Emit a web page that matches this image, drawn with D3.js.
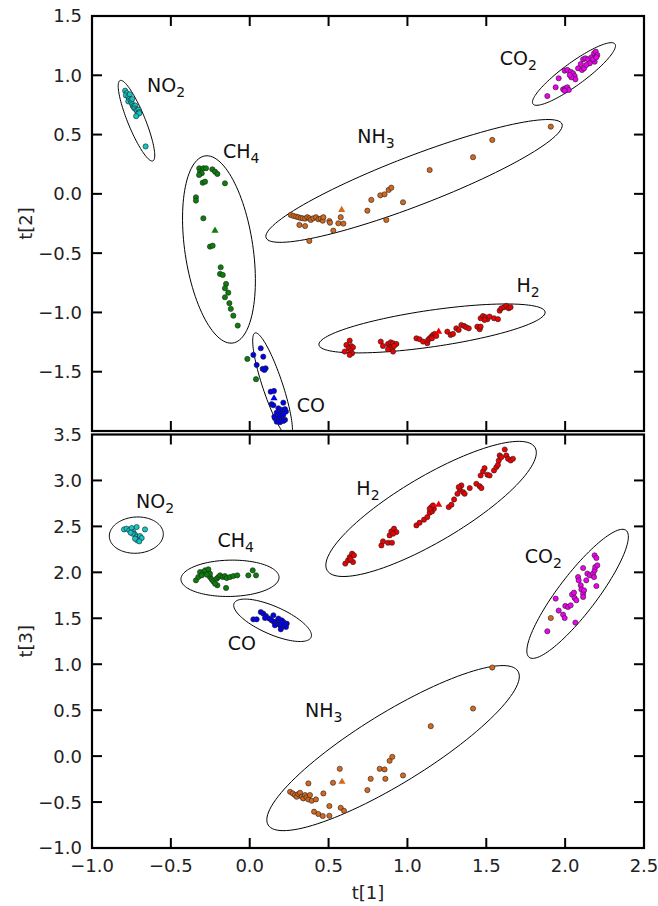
<!DOCTYPE html>
<html>
<head>
<meta charset="utf-8">
<script src="https://cdn.jsdelivr.net/npm/d3@7"></script>
<style>
  html, body { margin: 0; padding: 0; background: #fff; }
  svg { display: block; font-family: "DejaVu Sans", sans-serif; }
</style>
</head>
<body>
<div id="chart"></div>
<script>
// score values [t1, t2] for the upper plot
const no2Top = [[-0.79,0.87],[-0.78,0.85],[-0.785,0.83],[-0.77,0.82],[-0.765,0.80],[-0.77,0.78],[-0.755,0.79],[-0.75,0.77],[-0.745,0.755],[-0.74,0.74],[-0.735,0.73],[-0.725,0.745],[-0.73,0.72],[-0.72,0.71],[-0.715,0.70],[-0.705,0.71],[-0.70,0.69],[-0.71,0.675],[-0.70,0.68],[-0.72,0.655],[-0.76,0.84],[-0.745,0.80],[-0.66,0.40]];
const ch4Top = [[-0.320,0.216],[-0.315,0.187],[-0.304,0.174],[-0.321,0.159],[-0.294,0.216],[-0.277,0.216],[-0.237,0.207],[-0.220,0.187],[-0.205,0.168],[-0.298,0.094],[-0.283,0.103],[-0.157,0.089],[-0.341,-0.029],[-0.341,-0.057],[-0.294,-0.206],[-0.252,-0.445],[-0.235,-0.437],[-0.184,-0.619],[-0.188,-0.675],[-0.171,-0.684],[-0.150,-0.760],[-0.157,-0.796],[-0.136,-0.833],[-0.157,-0.872],[-0.129,-0.922],[-0.120,-0.970],[-0.104,-1.027],[-0.076,-1.111],[-0.015,-1.392],[0.040,-1.563]];
const coTop = [[0.070,-1.302],[0.023,-1.358],[0.086,-1.373],[0.044,-1.443],[0.082,-1.476],[0.101,-1.471],[0.093,-1.485],[0.133,-1.668],[0.154,-1.662],[0.139,-1.774],[0.150,-1.783],[0.213,-1.761],[0.182,-1.808],[0.203,-1.822],[0.224,-1.816],[0.171,-1.845],[0.192,-1.856],[0.213,-1.864],[0.230,-1.836],[0.160,-1.892],[0.182,-1.906],[0.203,-1.900],[0.224,-1.906],[0.171,-1.921],[0.192,-1.926],[0.213,-1.915],[0.156,-1.879],[0.188,-1.879]];
const nh3Top = [[0.260,-0.178],[0.277,-0.186],[0.294,-0.192],[0.308,-0.197],[0.323,-0.203],[0.336,-0.206],[0.351,-0.209],[0.365,-0.197],[0.378,-0.206],[0.387,-0.220],[0.403,-0.206],[0.420,-0.197],[0.435,-0.214],[0.450,-0.209],[0.463,-0.226],[0.467,-0.197],[0.505,-0.229],[0.509,-0.243],[0.315,-0.262],[0.351,-0.271],[0.530,-0.310],[0.378,-0.397],[0.562,-0.248],[0.594,-0.251],[0.577,-0.197],[0.746,-0.142],[0.771,-0.051],[0.828,-0.012],[0.855,-0.004],[0.881,0.033],[0.898,0.052],[0.972,-0.071],[0.866,-0.220],[1.141,0.201],[1.416,0.309],[1.538,0.455],[1.909,0.567]];
const co2Top = [[1.887,0.825],[1.940,0.899],[1.959,0.975],[1.987,0.882],[2.001,0.890],[2.014,0.899],[2.023,0.876],[1.997,0.870],[1.997,1.039],[2.014,1.045],[2.035,1.030],[2.050,1.017],[2.060,0.994],[2.065,0.966],[2.039,0.983],[2.029,1.003],[2.082,1.059],[2.099,1.095],[2.114,1.135],[2.128,1.143],[2.145,1.135],[2.166,1.152],[2.183,1.185],[2.194,1.199],[2.204,1.171],[2.187,1.115],[2.177,1.135],[2.156,1.101],[2.107,1.045],[2.120,1.059],[2.134,1.087],[2.198,1.152]];
const h2Top = [[0.634,-1.238],[0.613,-1.274],[0.644,-1.283],[0.628,-1.302],[0.655,-1.294],[0.602,-1.330],[0.640,-1.322],[0.649,-1.344],[0.634,-1.358],[0.831,-1.246],[0.845,-1.283],[0.877,-1.266],[0.894,-1.252],[0.909,-1.260],[0.930,-1.266],[0.887,-1.294],[0.902,-1.302],[0.877,-1.311],[0.909,-1.330],[0.915,-1.283],[1.057,-1.218],[1.077,-1.226],[1.099,-1.246],[1.126,-1.260],[1.131,-1.232],[1.141,-1.218],[1.152,-1.204],[1.162,-1.190],[1.173,-1.181],[1.156,-1.218],[1.183,-1.198],[1.253,-1.162],[1.274,-1.190],[1.289,-1.181],[1.310,-1.134],[1.325,-1.148],[1.342,-1.106],[1.359,-1.114],[1.373,-1.125],[1.389,-1.134],[1.443,-1.120],[1.458,-1.142],[1.464,-1.120],[1.464,-1.049],[1.479,-1.030],[1.494,-1.040],[1.507,-1.057],[1.521,-1.035],[1.549,-1.049],[1.574,-1.057],[1.585,-0.985],[1.595,-0.965],[1.613,-0.956],[1.627,-0.945],[1.642,-0.965],[1.654,-0.956],[1.489,-1.063]];

// score values [t1, t3] for the lower plot
const no2Bottom = [[-0.797,2.467],[-0.780,2.475],[-0.763,2.457],[-0.748,2.482],[-0.717,2.493],[-0.738,2.438],[-0.727,2.410],[-0.742,2.421],[-0.717,2.384],[-0.706,2.366],[-0.696,2.395],[-0.685,2.373],[-0.713,2.348],[-0.727,2.366],[-0.664,2.467],[-0.755,2.432],[-0.700,2.337]];
const ch4Bottom = [[-0.341,1.913],[-0.326,1.949],[-0.315,2.003],[-0.294,2.003],[-0.283,2.022],[-0.262,2.033],[-0.304,1.967],[-0.252,1.949],[-0.241,1.924],[-0.231,1.902],[-0.209,1.931],[-0.199,1.949],[-0.188,1.967],[-0.171,1.949],[-0.157,1.960],[-0.146,1.938],[-0.125,1.949],[-0.104,1.960],[-0.079,1.967],[-0.205,1.859],[-0.150,1.830],[-0.009,1.967],[0.019,2.022],[0.040,1.967],[-0.252,1.985],[-0.220,1.877],[-0.272,1.975]];
const coBottom = [[0.023,1.489],[0.044,1.489],[0.070,1.568],[0.086,1.551],[0.103,1.525],[0.097,1.503],[0.124,1.497],[0.139,1.478],[0.150,1.533],[0.154,1.460],[0.171,1.467],[0.182,1.442],[0.192,1.424],[0.203,1.406],[0.213,1.460],[0.224,1.431],[0.235,1.442],[0.197,1.380],[0.160,1.424],[0.182,1.497],[0.203,1.478],[0.230,1.406],[0.209,1.442]];
const nh3Bottom = [[0.256,-0.388],[0.273,-0.406],[0.287,-0.424],[0.298,-0.442],[0.308,-0.413],[0.319,-0.399],[0.330,-0.442],[0.340,-0.460],[0.351,-0.424],[0.361,-0.449],[0.372,-0.471],[0.382,-0.424],[0.393,-0.486],[0.420,-0.471],[0.372,-0.297],[0.467,-0.406],[0.408,-0.605],[0.435,-0.630],[0.463,-0.652],[0.505,-0.543],[0.505,-0.649],[0.528,-0.290],[0.571,-0.138],[0.577,-0.562],[0.598,-0.595],[0.746,-0.370],[0.767,-0.247],[0.824,-0.138],[0.855,-0.145],[0.860,-0.247],[0.887,-0.051],[0.904,-0.008],[0.972,-0.210],[1.148,0.326],[1.416,0.518],[1.538,0.964],[1.909,1.503]];
const co2Bottom = [[1.887,1.359],[1.940,1.714],[1.959,1.584],[1.987,1.540],[1.997,1.503],[2.001,1.634],[2.018,1.623],[2.035,1.641],[2.044,1.758],[2.060,1.721],[2.071,1.696],[2.065,1.453],[2.056,1.779],[2.082,1.949],[2.086,1.913],[2.099,1.859],[2.103,1.815],[2.114,1.768],[2.114,1.732],[2.120,1.804],[2.114,2.047],[2.141,1.986],[2.156,1.967],[2.177,1.986],[2.187,2.022],[2.191,2.058],[2.198,1.851],[2.204,2.076],[2.187,2.185],[2.198,2.156],[2.183,1.949],[2.134,1.913]];
const h2Bottom = [[0.606,2.095],[0.623,2.130],[0.634,2.166],[0.649,2.203],[0.655,2.112],[0.640,2.141],[0.661,2.185],[0.835,2.293],[0.845,2.337],[0.877,2.322],[0.902,2.322],[0.887,2.402],[0.898,2.446],[0.915,2.475],[0.930,2.438],[0.909,2.421],[1.057,2.511],[1.077,2.540],[1.105,2.573],[1.126,2.601],[1.141,2.649],[1.156,2.663],[1.168,2.692],[1.152,2.710],[1.141,2.692],[1.162,2.728],[1.262,2.710],[1.279,2.736],[1.296,2.793],[1.317,2.855],[1.332,2.902],[1.342,2.946],[1.353,2.873],[1.325,2.928],[1.363,2.855],[1.395,2.917],[1.437,2.964],[1.458,2.938],[1.469,2.917],[1.464,3.054],[1.479,3.098],[1.489,3.134],[1.507,3.062],[1.521,3.054],[1.549,3.109],[1.564,3.145],[1.574,3.170],[1.579,3.217],[1.585,3.272],[1.595,3.253],[1.617,3.337],[1.627,3.272],[1.638,3.236],[1.654,3.217],[1.669,3.236]];

// predicted samples, drawn as triangles: [group, t1, t]
const testTop = [["CH4",-0.220,-0.310],["CO",0.154,-1.724],["NH3",0.583,-0.136],["H2",1.198,-1.162]];
const testBottom = [["NH3",0.585,-0.279],["H2",1.198,2.736]];

// class ellipses: [group, centre t1, centre t, major tip t1, major tip t, minor/major]
const ellipsesTop = [["NO2",-0.718,0.617,-0.822,0.956,0.2],["CH4",-0.195,-0.469,-0.283,0.320,0.36],["CO",0.145,-1.616,0.034,-1.173,0.18],["NH3",1.042,0.109,1.980,0.589,0.156],["CO2",2.056,1.011,2.316,1.264,0.22],["H2",1.156,-1.135,1.873,-0.996,0.16]];
const ellipsesBottom = [["NO2",-0.719,2.405,-0.548,2.424,0.67],["CH4",-0.125,1.935,0.186,1.946,0.37],["CO",0.145,1.478,0.389,1.293,0.33],["H2",1.150,2.690,1.809,3.359,0.27],["CO2",2.079,1.766,2.386,2.457,0.24],["NH3",0.909,0.087,1.701,0.924,0.24]];

// labels: [formula, subscript, t1, t]
const labelsTop = [["NO","2",-0.651,0.859],["CH","4",-0.169,0.303],["NH","3",0.682,0.429],["CO","2",1.585,1.087],["H","2",1.691,-0.827],["CO","",0.298,-1.836]];
const labelsBottom = [["NO","2",-0.721,2.696],["CH","4",-0.205,2.272],["CO","",-0.140,1.152],["H","2",0.676,2.837],["CO","2",1.744,2.098],["NH","3",0.351,0.424]];

const xTicks = [-1.0,-0.5,0.0,0.5,1.0,1.5,2.0,2.5];
const yTicksTop = [-2.0,-1.5,-1.0,-0.5,0.0,0.5,1.0,1.5];
const yTicksBottom = [-1.0,-0.5,0.0,0.5,1.0,1.5,2.0,2.5,3.0,3.5];

const colors = {NO2: "#12c6c6", CH4: "#0a800a", CO: "#0000f0", NH3: "#d2691e", CO2: "#f000f0", H2: "#f00000"};

const W = 658, H = 906;
const left = 92, right = 644;
const fmt = d3.format(".1f");

const svg = d3.select("#chart").append("svg")
  .attr("width", W)
  .attr("height", H);

const x = d3.scaleLinear().domain([-1, 2.5]).range([left, right]);

const drawPanel = (opts) => {
  const y = d3.scaleLinear().domain(opts.domain).range(opts.range);
  const top = opts.range[1], bottom = opts.range[0];
  const g = svg.append("g");

  g.append("clipPath").attr("id", opts.id)
    .append("rect")
    .attr("x", left).attr("y", top)
    .attr("width", right - left).attr("height", bottom - top);

  const plot = g.append("g").attr("clip-path", "url(#" + opts.id + ")");

  // ellipses: centre + major semi-axis, minor axis perpendicular in screen space
  const line = d3.line().curve(d3.curveLinearClosed);
  plot.selectAll("path.ell")
    .data(opts.ellipses)
    .enter().append("path")
      .attr("class", "ell")
      .attr("d", d => {
        const cx = x(d[1]), cy = y(d[2]);
        const ux = x(d[3]) - cx, uy = y(d[4]) - cy;
        const vx = -uy * d[5], vy = ux * d[5];
        const pts = d3.range(0, 120).map(i => {
          const t = i / 120 * 2 * Math.PI;
          return [cx + ux * Math.cos(t) + vx * Math.sin(t), cy + uy * Math.cos(t) + vy * Math.sin(t)];
        });
        return line(pts);
      })
      .style("fill", "none")
      .style("stroke", "#000")
      .style("stroke-width", 1);

  opts.groups.forEach(gr => {
    plot.selectAll(null)
      .data(gr.points)
      .enter().append("circle")
        .attr("cx", d => x(d[0]))
        .attr("cy", d => y(d[1]))
        .attr("r", 2.6)
        .style("fill", colors[gr.name])
        .style("stroke", "#222")
        .style("stroke-width", 0.6);
  });

  const tri = d3.symbol().type(d3.symbolTriangle).size(22);
  plot.selectAll("path.tri")
    .data(opts.tests)
    .enter().append("path")
      .attr("class", "tri")
      .attr("d", tri)
      .attr("transform", d => "translate(" + x(d[1]) + "," + y(d[2]) + ")")
      .style("fill", d => colors[d[0]]);

  // group names with subscripts
  const lab = g.selectAll("text.lab")
    .data(opts.labels)
    .enter().append("text")
      .attr("class", "lab")
      .attr("x", d => x(d[2]))
      .attr("y", d => y(d[3]))
      .style("font-size", "19px")
      .style("fill", "#111");
  lab.append("tspan").text(d => d[0]);
  lab.append("tspan").text(d => d[1])
    .attr("dy", 5)
    .style("font-size", "14px");

  // frame
  g.append("rect")
    .attr("x", left).attr("y", top)
    .attr("width", right - left).attr("height", bottom - top)
    .style("fill", "none")
    .style("stroke", "#000")
    .style("stroke-width", 2.2);

  // inward ticks on all four sides
  const tl = 10;
  const yt = opts.yTicks.filter(v => y(v) > top + 1 && y(v) < bottom - 1);
  const xt = xTicks.filter(v => x(v) > left + 1 && x(v) < right - 1);
  const ticks = g.append("g").style("stroke", "#000").style("stroke-width", 2);
  yt.forEach(v => {
    ticks.append("line").attr("x1", left).attr("x2", left + tl).attr("y1", y(v)).attr("y2", y(v));
    ticks.append("line").attr("x1", right).attr("x2", right - tl).attr("y1", y(v)).attr("y2", y(v));
  });
  xt.forEach(v => {
    ticks.append("line").attr("x1", x(v)).attr("x2", x(v)).attr("y1", top).attr("y2", top + tl);
    ticks.append("line").attr("x1", x(v)).attr("x2", x(v)).attr("y1", bottom).attr("y2", bottom - tl);
  });

  g.selectAll("text.yt")
    .data(opts.yLabels)
    .enter().append("text")
      .attr("class", "yt")
      .attr("x", left - 10)
      .attr("y", d => y(d))
      .attr("dy", "0.36em")
      .attr("text-anchor", "end")
      .style("font-size", "18px")
      .style("fill", "#222")
      .text(d => fmt(d));

  g.append("text")
    .attr("transform", "translate(32," + ((top + bottom) / 2) + ") rotate(-90)")
    .attr("text-anchor", "middle")
    .style("font-size", "18px")
    .style("fill", "#222")
    .text(opts.yTitle);

  return y;
};

drawPanel({
  id: "clipTop",
  domain: [-2, 1.5], range: [431, 16],
  yTicks: yTicksTop,
  yLabels: yTicksTop.filter(v => v > -2),
  yTitle: "t[2]",
  ellipses: ellipsesTop,
  tests: testTop,
  labels: labelsTop,
  groups: [
    {name: "NO2", points: no2Top}, {name: "CH4", points: ch4Top}, {name: "CO", points: coTop},
    {name: "NH3", points: nh3Top}, {name: "CO2", points: co2Top}, {name: "H2", points: h2Top}
  ]
});

drawPanel({
  id: "clipBottom",
  domain: [-1, 3.5], range: [848, 434.5],
  yTicks: yTicksBottom,
  yLabels: yTicksBottom,
  yTitle: "t[3]",
  ellipses: ellipsesBottom,
  tests: testBottom,
  labels: labelsBottom,
  groups: [
    {name: "NO2", points: no2Bottom}, {name: "CH4", points: ch4Bottom}, {name: "CO", points: coBottom},
    {name: "NH3", points: nh3Bottom}, {name: "CO2", points: co2Bottom}, {name: "H2", points: h2Bottom}
  ]
});

// shared x axis labels
svg.selectAll("text.xt")
  .data(xTicks)
  .enter().append("text")
    .attr("class", "xt")
    .attr("x", d => x(d))
    .attr("y", 872)
    .attr("text-anchor", "middle")
    .style("font-size", "18px")
    .style("fill", "#222")
    .text(d => fmt(d));

svg.append("text")
  .attr("x", (left + right) / 2)
  .attr("y", 899)
  .attr("text-anchor", "middle")
  .style("font-size", "18px")
  .style("fill", "#222")
  .text("t[1]");
</script>
</body>
</html>
